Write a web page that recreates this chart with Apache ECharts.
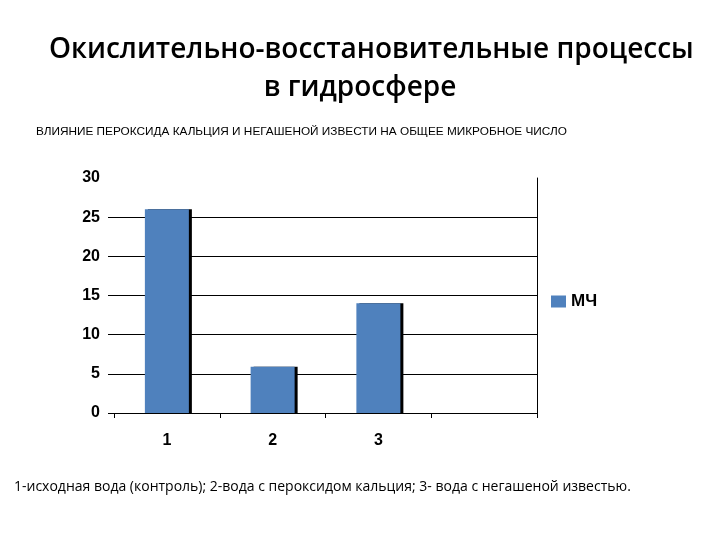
<!DOCTYPE html>
<html><head><meta charset="utf-8">
<script src="https://cdn.jsdelivr.net/npm/echarts@6/dist/echarts.min.js"></script>
<style>html,body{margin:0;padding:0;background:#fff}#c{width:720px;height:540px}</style>
</head><body><div id="c"></div>
<script>
const categories = ['1', '2', '3', ''];
const seriesName = 'МЧ';
const values = [26, 5.9, 14, null];
const yTicks = [0, 5, 10, 15, 20, 25, 30];
const yTickMarks = [0, 5, 10, 15, 20, 25];

const chart = echarts.init(document.getElementById('c'));
chart.setOption({
  animation: false,
  backgroundColor: '#fff',
  title: [
    { text: 'Окислительно-восстановительные процессы', left: 44, top: 31,
      textStyle: { fontFamily: 'Open Sans', fontWeight: 600, fontSize: 28, color: '#000' } },
    { text: 'в гидросфере', left: 'center', top: 69,
      textStyle: { fontFamily: 'Open Sans', fontWeight: 600, fontSize: 28, color: '#000' } },
    { text: 'ВЛИЯНИЕ ПЕРОКСИДА КАЛЬЦИЯ И НЕГАШЕНОЙ ИЗВЕСТИ НА ОБЩЕЕ МИКРОБНОЕ ЧИСЛО', left: 31, top: 121,
      textStyle: { fontFamily: 'Liberation Sans', fontWeight: 'normal', fontSize: 11.8, color: '#000' } },
    { text: '1-исходная вода (контроль); 2-вода с пероксидом кальция; 3- вода с негашеной известью.', left: 9, top: 475,
      textStyle: { fontFamily: 'Open Sans', fontWeight: 'normal', fontSize: 14, color: '#000' } }
  ],
  legend: {
    data: [seriesName], left: 546, top: 288, orient: 'vertical',
    icon: 'rect', itemWidth: 15, itemHeight: 12, itemGap: 6,
    textStyle: { fontFamily: 'Liberation Sans', fontWeight: 'bold', fontSize: 17, color: '#000' }
  },
  grid: { left: 114, right: 183, top: 178, bottom: 127 },
  xAxis: {
    type: 'category', data: categories,
    axisLine: { show: true, lineStyle: { color: '#000', width: 1 } },
    axisTick: { show: true, length: 5, lineStyle: { color: '#000' } },
    axisLabel: { margin: 20, fontFamily: 'Liberation Sans', fontWeight: 'bold', fontSize: 16, color: '#000' }
  },
  yAxis: [{
    type: 'value', min: 0, max: 30, interval: 5,
    axisLine: { show: false },
    axisTick: { show: true, length: 6, customValues: yTickMarks, lineStyle: { color: '#000' } },
    axisLabel: { margin: 14, fontFamily: 'Liberation Sans', fontWeight: 'bold', fontSize: 16, color: '#000',
      formatter: v => yTicks.includes(v) ? String(v) : '' },
    splitLine: { show: true, lineStyle: { color: ['#000', '#000', '#000', '#000', '#000', '#000', 'rgba(0,0,0,0)'], width: 1 } }
  }, {
    type: 'value', min: 0, max: 30, interval: 5, position: 'right',
    axisLine: { show: true, lineStyle: { color: '#000', width: 1 } },
    axisTick: { show: false }, axisLabel: { show: false }, splitLine: { show: false }
  }],
  series: [{
    name: seriesName, type: 'bar', data: values, barWidth: 44,
    itemStyle: { color: '#4F81BD',
      shadowColor: '#000', shadowOffsetX: 3, shadowOffsetY: 0, shadowBlur: 0 }
  }]
});
</script></body></html>
